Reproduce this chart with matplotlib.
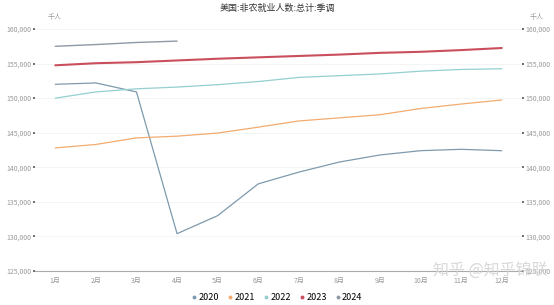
import matplotlib
matplotlib.use("Agg")
import matplotlib.pyplot as plt
from matplotlib.lines import Line2D
from matplotlib.ticker import FuncFormatter

plt.rcParams["font.family"] = ["Noto Sans CJK SC", "DejaVu Sans"]

months = ["1月", "2月", "3月", "4月", "5月", "6月", "7月", "8月", "9月", "10月", "11月", "12月"]

# 千人
y2020 = [152000, 152200, 150900, 130400, 133000, 137600, 139300, 140760, 141780, 142400, 142600, 142400]
y2021 = [142800, 143300, 144250, 144500, 144950, 145800, 146700, 147150, 147600, 148500, 149150, 149730]
y2022 = [150000, 150900, 151350, 151600, 151950, 152400, 153000, 153250, 153500, 153900, 154150, 154250]
y2023 = [154750, 155050, 155200, 155450, 155700, 155900, 156100, 156300, 156550, 156700, 156950, 157250]
y2024 = [157500, 157750, 158050, 158250]

series = [
    ("2020", y2020, "#7e9aad", 0.9),
    ("2021", y2021, "#f3ab70", 0.9),
    ("2022", y2022, "#95cfcf", 0.9),
    ("2023", y2023, "#c94f5d", 1.5),
    ("2024", y2024, "#8e99a6", 1.0),
]

fig = plt.figure(figsize=(5.54, 3.05), dpi=100)
ax = fig.add_axes([35 / 554, 1 - 271 / 305, 487 / 554, 242 / 305])

for name, vals, color, lw in series:
    ax.plot(range(len(vals)), vals, color=color, lw=lw, solid_capstyle="round")

ax.set_xlim(-0.5, 11.5)
ax.set_ylim(125000, 160000)
ax.set_yticks(range(125000, 160001, 5000))
ax.set_xticks(range(12))
ax.set_xticklabels(months)

fmt = FuncFormatter(lambda v, p: f"{int(v):,}")
ax.yaxis.set_major_formatter(fmt)
ax.grid(axis="y", color="#f2f2f2", lw=0.6)
ax.set_axisbelow(True)
for s in ["top", "right", "left"]:
    ax.spines[s].set_visible(False)
ax.spines["bottom"].set_color("#aaaaaa")
ax.spines["bottom"].set_linewidth(0.8)
ax.tick_params(axis="x", length=0, labelsize=5, colors="#999999", pad=4)
ax.tick_params(axis="y", length=1.5, width=1.2, color="#555555", labelsize=5,
               labelcolor="#999999", pad=1)

ax2 = ax.twinx()
ax2.set_ylim(ax.get_ylim())
ax2.set_yticks(range(125000, 160001, 5000))
ax2.yaxis.set_major_formatter(fmt)
for s in ["top", "right", "left", "bottom"]:
    ax2.spines[s].set_visible(False)
ax2.tick_params(axis="y", length=1.5, width=1.2, color="#555555", labelsize=5,
                labelcolor="#999999", pad=1)

fig.text(62 / 554, 1 - 17 / 305, "千人", fontsize=5, color="#999999", ha="right", va="center")
fig.text(530 / 554, 1 - 17 / 305, "千人", fontsize=5, color="#999999", ha="left", va="center")
fig.text(0.5, 1 - 8 / 305, "美国:非农就业人数:总计:季调", fontsize=6.5, color="#333333",
         ha="center", va="center")

handles = [Line2D([], [], marker="o", ls="none", ms=1.8, color=c) for _, _, c, _ in series]
fig.legend(handles, [n for n, _, _, _ in series], loc="center", bbox_to_anchor=(0.5, 1 - 298 / 305),
           ncol=5, frameon=False, fontsize=6.5, handletextpad=0.2, columnspacing=0.9,
           handlelength=0.6)

fig.text(490 / 554, 1 - 270 / 305, "知乎 @知乎锦联", fontsize=11.5, color="#d4d4d4",
         ha="center", va="center", alpha=0.9)

fig.savefig("out.png", dpi=100)
